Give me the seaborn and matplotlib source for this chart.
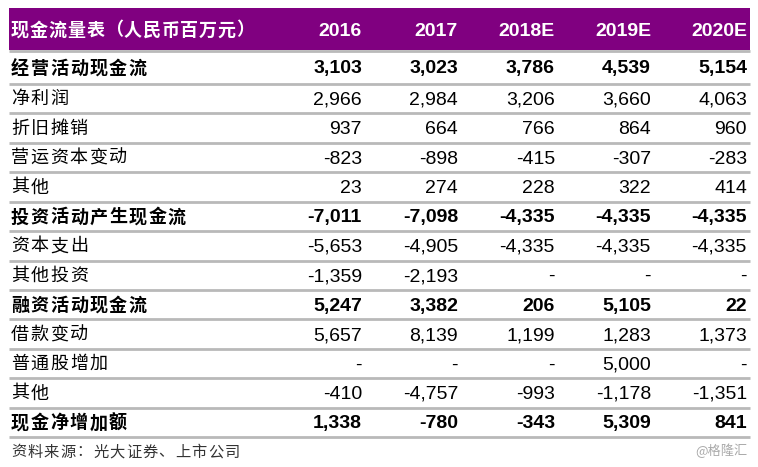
import seaborn as sns
import matplotlib.pyplot as plt
import numpy as np

sns.set_theme(style="white")
plt.rcParams["font.family"] = ["Liberation Sans", "Noto Sans CJK SC", "DejaVu Sans"]

title = "现金流量表（人民币百万元）"
years = ["2016", "2017", "2018E", "2019E", "2020E"]
labels = ["经营活动现金流", "净利润", "折旧摊销", "营运资本变动", "其他",
          "投资活动产生现金流", "资本支出", "其他投资",
          "融资活动现金流", "借款变动", "普通股增加", "其他", "现金净增加额"]
bold_rows = ["经营活动现金流", "投资活动产生现金流", "融资活动现金流", "现金净增加额"]

v2016 = [3103, 2966, 937, -823, 23, -7011, -5653, -1359, 5247, 5657, None, -410, 1338]
v2017 = [3023, 2984, 664, -898, 274, -7098, -4905, -2193, 3382, 8139, None, -4757, -780]
v2018 = [3786, 3206, 766, -415, 228, -4335, -4335, None, 206, 1199, None, -993, -343]
v2019 = [4539, 3660, 864, -307, 322, -4335, -4335, None, 5105, 1283, 5000, -1178, 5309]
v2020 = [5154, 4063, 960, -283, 414, -4335, -4335, None, 22, 1373, None, -1351, 841]
columns = [v2016, v2017, v2018, v2019, v2020]

source = "资料来源：光大证券、上市公司"
mark = "@格隆汇"


def cjk_text(ax, x, y, s, step, **kw):
    # the original uses a wide song-style font, so space the glyphs out by hand
    for k, ch in enumerate(s):
        ax.text(x + k * step, y, ch, va="center", ha="left",
                family=["Noto Sans CJK SC", "DejaVu Sans"], **kw)


fig = plt.figure(figsize=(7.58, 4.67), dpi=100)
ax = fig.add_axes([0, 0, 1, 1])
ax.set_xlim(0, 758)
ax.set_ylim(467, 0)
ax.axis("off")

left, right = 9, 750
col_right = [362, 458, 555, 651, 747]
head_top, head_bot = 8, 50
purple = "#800080"
grey = "#b9b9b9"

# first body row is a little taller than the rest
lines = np.concatenate([[51], np.linspace(84, 437, len(labels))])

ax.fill_between([left, right], head_top, head_bot, color=purple, lw=0)
cjk_text(ax, 11, 30, title, 18.8, color="white", fontsize=13, fontweight="bold")
for x, yr in zip(col_right, years):
    ax.text(x, 31, yr, color="white", fontsize=14,
            fontweight="bold", va="center", ha="right")

ax.hlines(lines, left, right, color=grey, lw=2)

for i, lab in enumerate(labels):
    yc = (lines[i] + lines[i + 1]) / 2 + 1
    fw = "bold" if lab in bold_rows else "normal"
    cjk_text(ax, 11, yc - 0.5, lab, 19.6, fontsize=13, fontweight=fw, color="black")
    for x, col in zip(col_right, columns):
        v = col[i]
        s = "-" if v is None else f"{v:,}"
        ax.text(x, yc + 0.5, s, fontsize=14, fontweight=fw, va="center", ha="right",
                color="black")

cjk_text(ax, 11, 452, source, 16.4, fontsize=11, color="#333333")
ax.text(748, 451, mark, fontsize=9.5, va="center", ha="right", color="#aaaaaa",
        family=["Noto Sans CJK SC", "DejaVu Sans"])

fig.savefig("out.png", dpi=100)
